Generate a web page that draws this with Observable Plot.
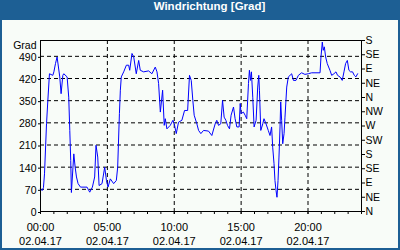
<!DOCTYPE html>
<html>
<head>
<meta charset="utf-8">
<script src="https://cdn.jsdelivr.net/npm/d3@7"></script>
<script src="https://cdn.jsdelivr.net/npm/@observablehq/plot@0.6"></script>
<style>
  html, body { margin: 0; padding: 0; background: #fff; }
  #box { position: relative; width: 400px; height: 250px; background: #1d5f94; overflow: hidden; }
  #title { height: 20px; line-height: 20px; color: #fff; font: bold 11.5px "Liberation Sans", sans-serif; text-align: center; padding-left: 19px; white-space: nowrap; }
  #chart { position: absolute; left: 2px; top: 20px; width: 396px; height: 228px; background: #f8fcf8; }
  #chart svg { display: block; }
</style>
</head>
<body>
<div id="box">
  <div id="title">Windrichtung [Grad]</div>
  <div id="chart"></div>
</div>
<script>
// Time of day in hours (02.04.17)
const hours = [
  0.00, 0.12, 0.22, 0.30, 0.45, 0.55, 0.67, 0.92, 1.00, 1.12, 1.24, 1.44, 1.54, 1.67, 1.74, 1.99,
  2.11, 2.19, 2.26, 2.31, 2.49, 2.59, 2.69, 2.81, 2.99, 3.48, 3.68, 3.88, 4.05, 4.15, 4.28, 4.38,
  4.60, 4.80, 4.93, 5.05, 5.22, 5.47, 5.67, 5.77, 5.90, 5.97, 6.04, 6.22, 6.42, 6.59, 6.67, 6.84,
  6.97, 7.16, 7.34, 7.46, 7.71, 8.08, 8.33, 8.58, 8.71, 8.83, 8.96, 9.13, 9.25, 9.33, 9.45, 9.70,
  9.90, 10.00, 10.15, 10.32, 10.57, 10.77, 11.00, 11.14, 11.27, 11.39, 11.49, 11.69, 11.82, 11.99,
  12.19, 12.56, 12.81, 13.06, 13.18, 13.31, 13.48, 13.61, 13.73, 13.86, 13.98, 14.13, 14.25, 14.43,
  14.55, 14.68, 14.85, 14.93, 15.00, 15.17, 15.30, 15.42, 15.55, 15.62, 15.70, 15.77, 15.87, 15.97,
  16.12, 16.24, 16.32, 16.37, 16.47, 16.62, 16.71, 16.86, 17.03, 17.16, 17.28, 17.36, 17.46, 17.53,
  17.61, 17.68, 17.76, 17.83, 17.91, 17.96, 18.03, 18.11, 18.21, 18.28, 18.41, 18.53, 18.66, 18.78,
  18.91, 19.10, 19.28, 19.52, 19.77, 20.02, 20.27, 20.90, 20.97, 21.07, 21.14, 21.22, 21.32, 21.44,
  21.64, 21.77, 21.94, 22.09, 22.21, 22.39, 22.56, 22.69, 22.81, 22.94, 23.06, 23.18, 23.33, 23.46,
  23.58, 23.71
];
// Wind direction in degrees (values above 360 wrap past north)
const degrees = [
  72, 66, 75, 119, 277, 351, 435, 430, 441, 467, 488, 425, 372, 430, 435, 425,
  361, 256, 161, 60, 182, 140, 109, 88, 77, 77, 61, 77, 109, 209, 172, 82,
  88, 140, 98, 77, 103, 88, 98, 140, 309, 383, 425, 441, 462, 462, 446, 499,
  488, 435, 477, 446, 441, 444, 435, 456, 441, 404, 314, 383, 272, 293, 261, 272,
  288, 277, 246, 282, 288, 319, 319, 430, 414, 351, 304, 277, 256, 246,
  256, 254, 240, 277, 288, 272, 277, 351, 298, 288, 272, 261, 304, 330,
  293, 267, 267, 341, 309, 314, 304, 293, 404, 446, 414, 441, 361, 267,
  288, 393, 430, 383, 256, 277, 293, 277, 256, 240, 267, 203, 151, 98,
  66, 45, 98, 172, 267, 346, 288, 214, 246, 298, 393, 425, 430, 435,
  414, 414, 430, 438, 433, 435, 438, 438, 488, 535, 509, 520, 488, 467,
  446, 430, 435, 441, 430, 425, 414, 441, 467, 477, 446, 441, 441, 430,
  425, 435
];
const leftTicks = [0, 70, 140, 210, 280, 350, 420, 490];
const compassTicks = [0, 45, 90, 135, 180, 225, 270, 315, 360, 405, 450, 495, 540];
const compassLabels = ["N", "NE", "E", "SE", "S", "SW", "W", "NW", "N", "NE", "E", "SE", "S"];
const hourTicks = d3.range(0, 25);
const majorHours = [0, 5, 10, 15, 20];
const majorLabels = ["00:00", "05:00", "10:00", "15:00", "20:00"];
const dateLabel = "02.04.17";
const yLabel = "Grad";

const rows = hours.map((h, i) => ({h, v: degrees[i]}));

const chart = Plot.plot({
  width: 396,
  height: 228,
  marginLeft: 38,
  marginRight: 37,
  marginTop: 20,
  marginBottom: 37,
  style: {background: "transparent", fontFamily: "'Liberation Sans', sans-serif", fontSize: "11px", color: "#000", overflow: "visible"},
  x: {domain: [0, 24]},
  y: {domain: [0, 540]},
  marks: [
    Plot.gridY(leftTicks.filter(d => d > 0), {stroke: "#000", strokeOpacity: 1, strokeDasharray: "4,3"}),
    Plot.gridX(majorHours.filter(d => d > 0), {stroke: "#000", strokeOpacity: 1, strokeDasharray: "4,3"}),
    Plot.line(rows, {x: "h", y: "v", stroke: "#0000ff", strokeWidth: 1}),
    Plot.frame({stroke: "#000"}),
    Plot.axisY(leftTicks, {anchor: "left", tickSize: 2, tickPadding: 2, label: null, fontSize: 10.5, dy: 1}),
    Plot.axisY(compassTicks, {anchor: "right", tickSize: 3, tickPadding: 1, label: null, fontSize: 10.5,
      tickFormat: d => compassLabels[compassTicks.indexOf(d)]}),
    Plot.axisX(hourTicks, {anchor: "bottom", tickSize: 3, label: null, tickFormat: () => ""}),
    Plot.axisX(majorHours, {anchor: "bottom", tickSize: 3, tickPadding: 7, label: null, lineHeight: 1.27,
      tickFormat: d => majorLabels[majorHours.indexOf(d)] + "\n" + dateLabel}),
    Plot.text([yLabel], {frameAnchor: "top-left", textAnchor: "end", lineAnchor: "top", dx: -4, dy: 1, fontSize: 10.5})
  ]
});
document.getElementById("chart").appendChild(chart);
</script>
</body>
</html>
